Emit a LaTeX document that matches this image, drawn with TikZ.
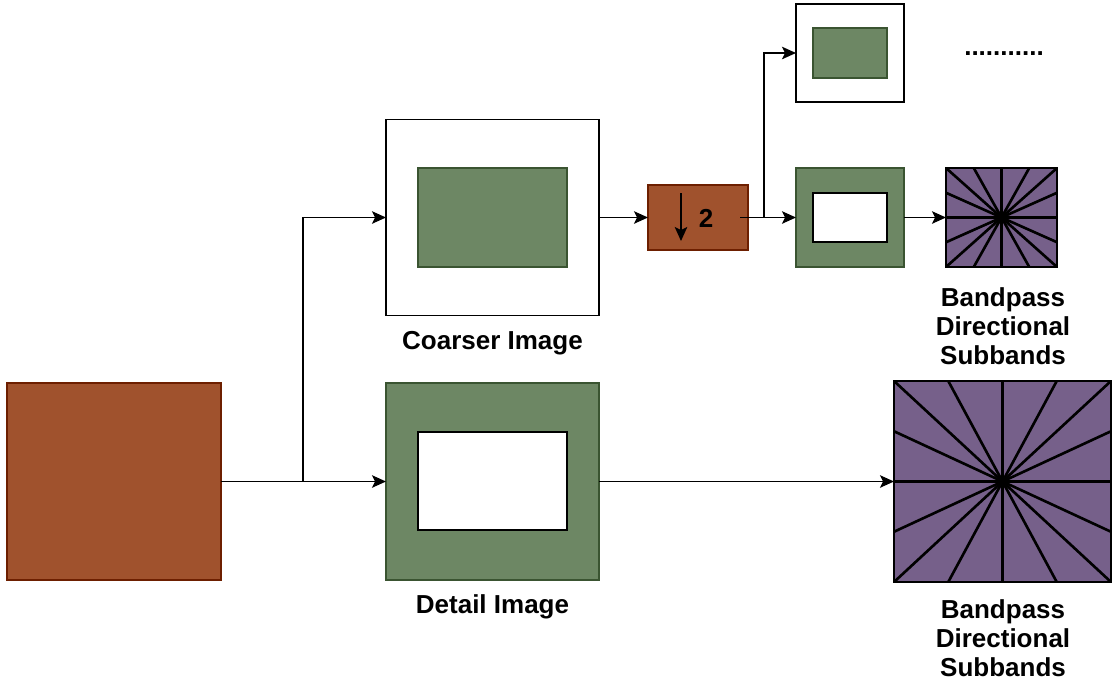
\documentclass[tikz,border=0pt]{standalone}
\usepackage{fontspec}
\setmainfont{Liberation Sans}
\usetikzlibrary{arrows.meta,calc}

\definecolor{brownfill}{HTML}{A0522D}
\definecolor{brownline}{HTML}{6D1F00}
\definecolor{greenfill}{HTML}{6D8764}
\definecolor{greenline}{HTML}{3A5431}
\definecolor{purplefill}{HTML}{76608A}

\tikzset{
  box/.style={rectangle, draw, inner sep=0pt, outer sep=0pt},
  brownbox/.style={box, fill=brownfill, draw=brownline, line width=0.6pt},
  greenbox/.style={box, fill=greenfill, draw=greenline, line width=0.6pt},
  whitebox/.style={box, fill=white, draw=black, line width=0.9pt},
  fanbox/.style={box, fill=purplefill, draw=black, line width=1.5pt},
  fanline/.style={line width=1.5pt},
  arr/.style={line width=0.9pt, -{Stealth[length=2.8mm,width=2.5mm,inset=0.6mm]}},
  lbl/.style={font=\fontsize{14.8}{16.5}\selectfont\bfseries, align=center}
}

\newcommand{\fan}[1]{%
  \draw[fanline] (#1.north west) -- (#1.south east);
  \draw[fanline] (#1.north east) -- (#1.south west);
  \draw[fanline] (#1.north) -- (#1.south);
  \draw[fanline] (#1.west) -- (#1.east);
  \foreach \p in {0.25,0.75} {
    \draw[fanline] ($(#1.north west)!\p!(#1.north east)$) -- ($(#1.south east)!\p!(#1.south west)$);
    \draw[fanline] ($(#1.north west)!\p!(#1.south west)$) -- ($(#1.south east)!\p!(#1.north east)$);
  }
  \draw[line width=1.6pt] (#1.north west) rectangle (#1.south east);
}

\begin{document}
\begin{tikzpicture}
  \useasboundingbox (0,0) rectangle (22.34,-13.76);

  \node[brownbox, minimum width=4.28cm, minimum height=3.94cm] (src) at (2.28,-9.63) {};

  \node[whitebox, minimum width=4.26cm, minimum height=3.92cm] (coarse) at (9.85,-4.35) {};
  \node[greenbox, minimum width=2.98cm, minimum height=1.98cm] (coarsein) at (9.85,-4.35) {};
  \node[lbl] (coarselbl) at (9.85,-6.86) {Coarser Image};

  \node[greenbox, minimum width=4.26cm, minimum height=3.94cm] (detail) at (9.85,-9.63) {};
  \node[whitebox, line width=0.6pt, minimum width=2.98cm, minimum height=1.96cm] (detailin) at (9.85,-9.62) {};
  \node[lbl] (detaillbl) at (9.85,-12.13) {Detail Image};

  \node[brownbox, minimum width=2cm, minimum height=1.3cm] (down) at (13.96,-4.35) {};
  \draw[arr] (13.62,-3.86) -- (13.62,-4.82);
  \node[lbl] (two) at (14.12,-4.36) {2};

  \node[whitebox, minimum width=2.16cm, minimum height=1.96cm] (top) at (17,-1.06) {};
  \node[greenbox, minimum width=1.48cm, minimum height=1cm] (topin) at (17,-1.06) {};
  \node[lbl] (dots) at (20.08,-1.08) {...........};

  \node[greenbox, minimum width=2.16cm, minimum height=1.98cm] (mid) at (17,-4.35) {};
  \node[whitebox, line width=0.6pt, minimum width=1.48cm, minimum height=0.98cm] (midin) at (17,-4.35) {};

  \node[fanbox, minimum width=2.22cm, minimum height=1.98cm] (dfba) at (20.03,-4.35) {};
  \fan{dfba}
  \node[lbl] (dfbalbl) at (20.06,-6.52) {Bandpass\\Directional\\Subbands};

  \node[fanbox, minimum width=4.34cm, minimum height=4.02cm] (dfbb) at (20.05,-9.63) {};
  \fan{dfbb}
  \node[lbl] (dfbblbl) at (20.06,-12.76) {Bandpass\\Directional\\Subbands};

  \coordinate (ja) at (6.06,-9.63);
  \coordinate (dout) at (14.8,-4.35);
  \coordinate (jb) at (15.28,-4.35);

  \draw[arr] (src.east) -- (detail.west);
  \draw[arr] (ja) |- (coarse.west);
  \draw[arr] (coarse.east) -- (down.west);
  \draw[arr] (dout) -- (mid.west);
  \draw[arr] (jb) |- (top.west);
  \draw[arr] (mid.east) -- (dfba.west);
  \draw[arr] (detail.east) -- (dfbb.west);
\end{tikzpicture}
\end{document}
